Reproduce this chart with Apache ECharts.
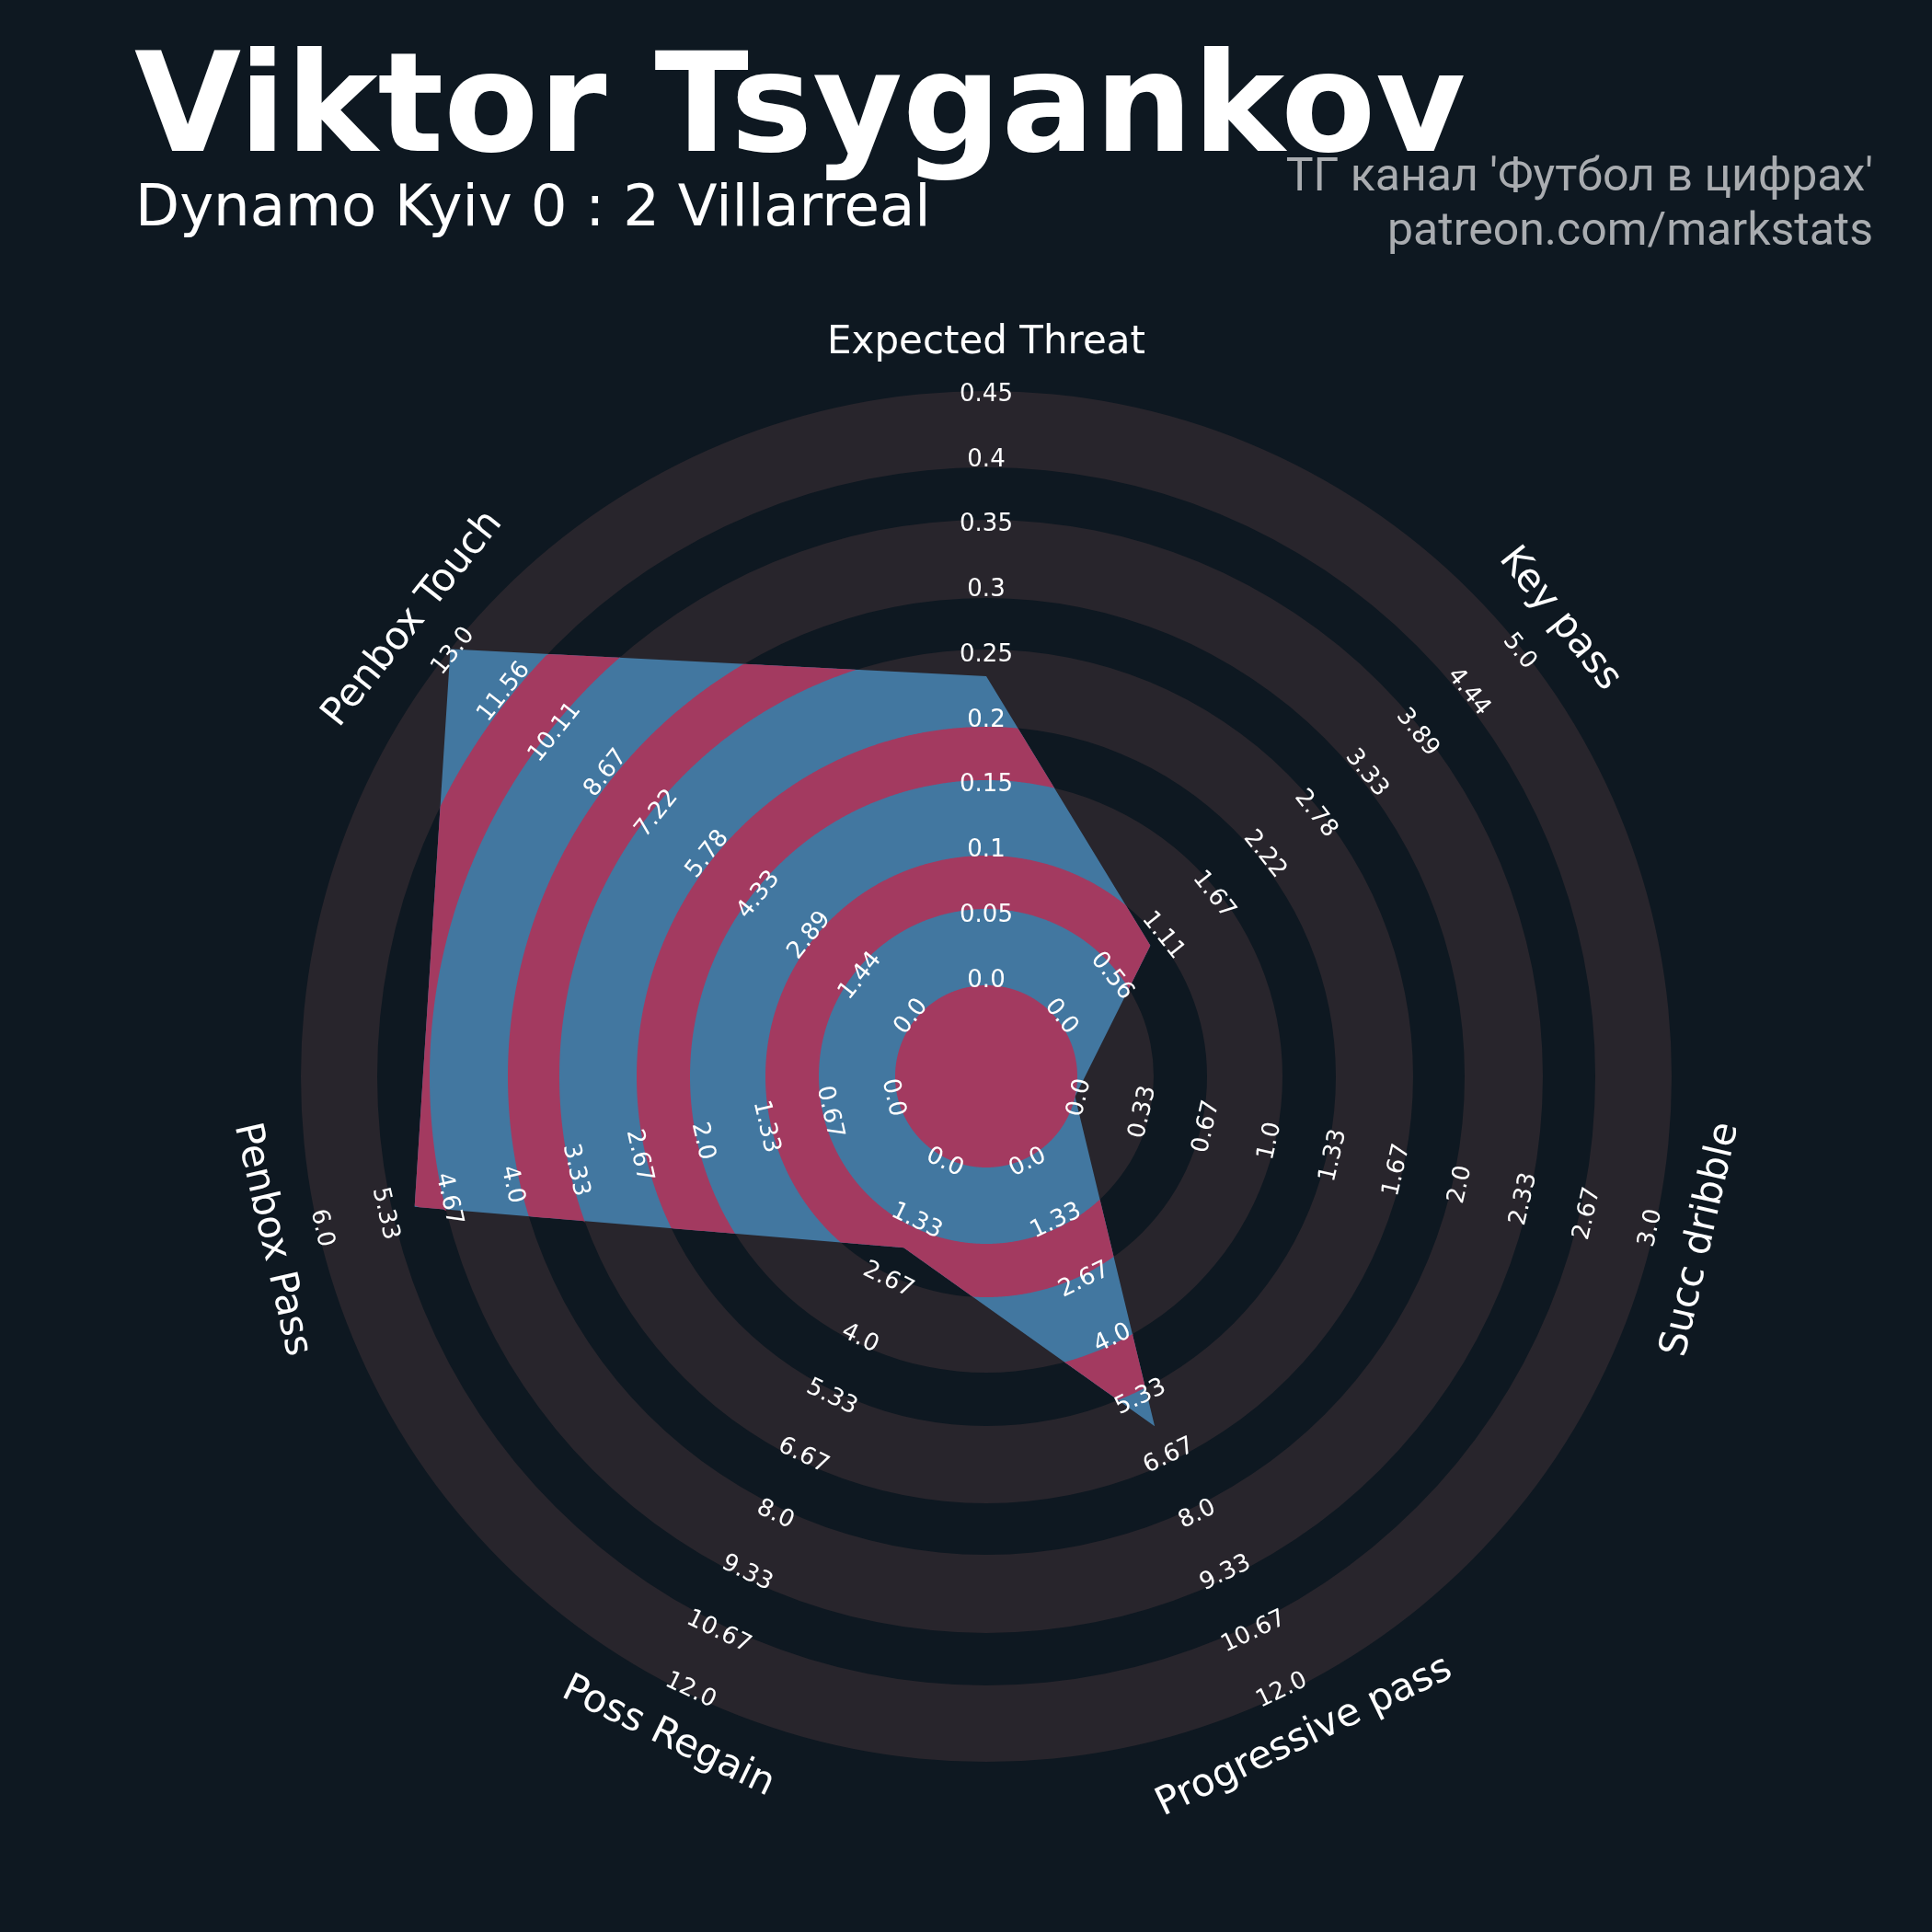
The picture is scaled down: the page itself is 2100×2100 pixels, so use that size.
<!DOCTYPE html>
<html>
<head>
<meta charset="utf-8">
<script src="https://cdn.jsdelivr.net/npm/echarts@6.0.0/dist/echarts.min.js"></script>
<style>
  html, body { margin: 0; padding: 0; background: #0e1821; }
  #chart { width: 2100px; height: 2100px; }
</style>
</head>
<body>
<div id="chart"></div>
<script>
// ---------------- DATA ----------------
const PARAMS = ['Expected Threat', 'Key pass', 'Succ dribble', 'Progressive pass', 'Poss Regain', 'Penbox Pass', 'Penbox Touch'];
const VALUES = [0.234, 1, 0, 6, 2, 5, 13];
const MIN_RANGE = [0, 0, 0, 0, 0, 0, 0];
const MAX_RANGE = [0.45, 5, 3, 12, 12, 6, 13];

const TICKS_XT = ['0.0', '0.05', '0.1', '0.15', '0.2', '0.25', '0.3', '0.35', '0.4', '0.45'];
const TICKS_KEYPASS = ['0.0', '0.56', '1.11', '1.67', '2.22', '2.78', '3.33', '3.89', '4.44', '5.0'];
const TICKS_DRIBBLE = ['0.0', '0.33', '0.67', '1.0', '1.33', '1.67', '2.0', '2.33', '2.67', '3.0'];
const TICKS_PROGPASS = ['0.0', '1.33', '2.67', '4.0', '5.33', '6.67', '8.0', '9.33', '10.67', '12.0'];
const TICKS_REGAIN = ['0.0', '1.33', '2.67', '4.0', '5.33', '6.67', '8.0', '9.33', '10.67', '12.0'];
const TICKS_PENPASS = ['0.0', '0.67', '1.33', '2.0', '2.67', '3.33', '4.0', '4.67', '5.33', '6.0'];
const TICKS_PENTOUCH = ['0.0', '1.44', '2.89', '4.33', '5.78', '7.22', '8.67', '10.11', '11.56', '13.0'];
const TICKS = [TICKS_XT, TICKS_KEYPASS, TICKS_DRIBBLE, TICKS_PROGPASS, TICKS_REGAIN, TICKS_PENPASS, TICKS_PENTOUCH];

const TITLE = 'Viktor Tsygankov';
const SUBTITLE = 'Dynamo Kyiv 0 : 2 Villarreal';
const CREDIT1 = "ТГ канал 'Футбол в цифрах'";
const CREDIT2 = 'patreon.com/markstats';

// ---------------- STYLE ----------------
const BG = '#0e1821';
const GRAY = '#28252c';
const BLUE = '#4277a0';
const PINK = '#a33a60';
const OUTER_R = 745;
const HOLE = 99 / 646;                      // radius-axis offset so value 0 sits on the centre circle
// ring edges in px (outer radius = OUTER_R)
const GRAY_RINGS = [[99, 182], [240, 322], [380, 464], [520, 605], [662, 745]];
const PINK_RINGS = [[0, 99], [182, 240], [322, 380], [464, 520], [605, 662]];

// normalised values for the library radius axis
const NORM = VALUES.map((v, i) => (v - MIN_RANGE[i]) / (MAX_RANGE[i] - MIN_RANGE[i]));
const NLAB = TICKS[0].length;

function textRot(rad) {
  const deg = rad * 180 / Math.PI;
  let r = (((deg - 90) % 360) + 540) % 360 - 180;
  if (r > 90) r -= 180;
  if (r < -90) r += 180;
  return r * Math.PI / 180;
}

function rayDist(cx, cy, pts, th) {
  const dx = Math.cos(th), dy = -Math.sin(th);
  let best = Infinity;
  for (let k = 0; k < pts.length; k++) {
    const A = pts[k], B = pts[(k + 1) % pts.length];
    const ax = A[0] - cx, ay = A[1] - cy;
    const ex = B[0] - A[0], ey = B[1] - A[1];
    const det = -dx * ey + ex * dy;
    if (Math.abs(det) < 1e-12) continue;
    const t = (-ax * ey + ex * ay) / det;
    const s = (dx * ay - dy * ax) / det;
    if (s >= -1e-9 && s <= 1 + 1e-9 && t > 0) best = Math.min(best, t);
  }
  return best;
}

const chart = echarts.init(document.getElementById('chart'), null, { renderer: 'canvas' });

const option = {
  backgroundColor: BG,
  animation: false,
  polar: { center: [1072, 1170], radius: [0, OUTER_R] },
  angleAxis: {
    type: 'category', data: PARAMS, startAngle: 90 + 180 / PARAMS.length,
    clockwise: true, boundaryGap: true, show: false
  },
  radiusAxis: { type: 'value', min: -HOLE, max: 1, show: false },
  graphic: [
    { type: 'text', x: 146, y: 125, style: { text: TITLE, fill: '#ffffff', fontFamily: 'DejaVu Sans', fontWeight: 'bold', fontSize: 150, align: 'left', verticalAlign: 'middle' } },
    { type: 'text', x: 147, y: 229, style: { text: SUBTITLE, fill: '#ffffff', fontFamily: 'DejaVu Sans', fontSize: 62.5, align: 'left', verticalAlign: 'middle' } },
    { type: 'text', x: 2036, y: 194, style: { text: CREDIT1, fill: '#a9acb0', fontFamily: 'Roboto', fontSize: 50, align: 'right', verticalAlign: 'middle' } },
    { type: 'text', x: 2036, y: 253, style: { text: CREDIT2, fill: '#a9acb0', fontFamily: 'Roboto', fontSize: 50, align: 'right', verticalAlign: 'middle' } }
  ],
  series: [
    {
      name: 'rings', type: 'custom', coordinateSystem: 'polar', z: 1, clip: false, silent: true,
      data: [[0, PARAMS[0]]],
      renderItem: function (params, api) {
        const cs = params.coordSys;
        return {
          type: 'group',
          children: GRAY_RINGS.map(rg => ({
            type: 'ring', shape: { cx: cs.cx, cy: cs.cy, r: rg[1], r0: rg[0] }, style: { fill: GRAY }
          }))
        };
      }
    },
    {
      name: 'radar', type: 'custom', coordinateSystem: 'polar', z: 2, clip: false, silent: true,
      data: PARAMS.map((p, i) => [NORM[i], p]),
      renderItem: function (params, api) {
        if (params.dataIndexInside !== 0) return;
        const cs = params.coordSys;
        const cx = cs.cx, cy = cs.cy;
        const pts = [];
        for (let k = 0; k < PARAMS.length; k++) {
          const c = api.coord([api.value(0, k), api.value(1, k)]);
          pts.push([c[0], c[1]]);
        }
        const children = [{ type: 'polygon', shape: { points: pts }, style: { fill: BLUE } }];
        const N = 1440;
        const rho = [];
        for (let j = 0; j <= N; j++) rho.push(rayDist(cx, cy, pts, 2 * Math.PI * j / N));
        PINK_RINGS.forEach(rg => {
          const r1 = rg[0], r2 = rg[1];
          const poly = [];
          for (let j = 0; j <= N; j++) {
            const th = 2 * Math.PI * j / N;
            const rr = Math.max(r1, Math.min(r2, rho[j]));
            poly.push([cx + rr * Math.cos(th), cy - rr * Math.sin(th)]);
          }
          if (r1 > 0) {
            for (let j = N; j >= 0; j--) {
              const th = 2 * Math.PI * j / N;
              poly.push([cx + r1 * Math.cos(th), cy - r1 * Math.sin(th)]);
            }
          }
          children.push({ type: 'polygon', shape: { points: poly }, style: { fill: PINK } });
        });
        return { type: 'group', children: children };
      }
    },
    {
      name: 'ticklabels', type: 'custom', coordinateSystem: 'polar', z: 3, clip: false, silent: true,
      data: (function () {
        const d = [];
        PARAMS.forEach((p, pi) => { for (let i = 0; i < NLAB; i++) d.push([i / (NLAB - 1), p, pi, i]); });
        return d;
      })(),
      renderItem: function (params, api) {
        const cs = params.coordSys;
        const c = api.coord([api.value(0), api.value(1)]);
        const pi = api.value(2), i = api.value(3);
        const ang = c[3];
        const r = c[2] + (5 - 1.0 * i);
        return {
          type: 'text',
          x: cs.cx + r * Math.cos(ang), y: cs.cy - r * Math.sin(ang),
          rotation: textRot(ang),
          style: { text: TICKS[pi][i], fill: '#ffffff', fontFamily: 'DejaVu Sans', fontSize: 26, align: 'center', verticalAlign: 'middle' }
        };
      }
    },
    {
      name: 'paramlabels', type: 'custom', coordinateSystem: 'polar', z: 4, clip: false, silent: true,
      data: PARAMS.map(p => [1, p]),
      renderItem: function (params, api) {
        const cs = params.coordSys;
        const c = api.coord([api.value(0), api.value(1)]);
        const ang = c[3];
        const r = c[2] + 52;
        return {
          type: 'text',
          x: cs.cx + r * Math.cos(ang), y: cs.cy - r * Math.sin(ang),
          rotation: textRot(ang),
          style: { text: PARAMS[params.dataIndex], fill: '#ffffff', fontFamily: 'DejaVu Sans', fontSize: 42, align: 'center', verticalAlign: 'middle' }
        };
      }
    }
  ]
};
chart.setOption(option);
</script>
</body>
</html>
